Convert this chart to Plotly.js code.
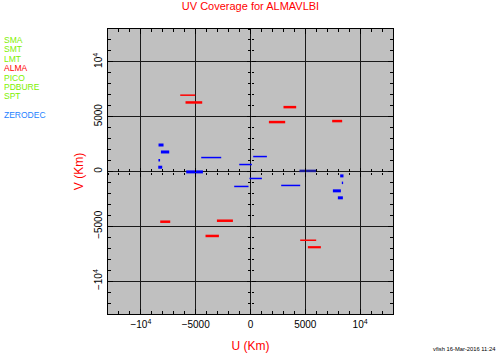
<!DOCTYPE html>
<html>
<head>
<meta charset="utf-8">
<script src="https://cdn.plot.ly/plotly-3.0.1.min.js"></script>
<style>html,body{margin:0;padding:0;background:#fff;}#chart{width:498px;height:353px;}</style>
</head>
<body>
<div id="chart"></div>
<script>
// ---- data (km) ----
const almaU0 = [-6411, -5928, 3010, 1678, 7451, -8235, -3064, -4104, 4533, 5235];
const almaU1 = [-5043, -4405, 4168, 3165, 8363, -7323, -1605, -2882, 5992, 6420];
const almaV  = [ 6963,  6299, 5872, 4509, 4600, -4581, -4490, -5881, -6272, -6908];

const zeroU0 = [-8390, -8172, -8400, -8418, -5864, -4496, -1030,  246, 4469,  2800,  -91, -1487,  8181,  8330,  7515,  7971];
const zeroU1 = [-7934, -7415, -8250, -8053, -4341, -2672,   128, 1496, 5992,  4533, 1040,  -182,  8482,  8450,  8245,  8427];
const zeroV  = [ 2418,  1782,  1027,   391,   -36,  1273,   636, 1364,   55, -1273, -636, -1364,  -400, -1036, -1764, -2400];

const tickVals = [-10000, -5000, 0, 5000, 10000];
const tickText = ['\u221210<sup>4</sup>', '\u22125000', '0', '5000', '10<sup>4</sup>'];

const legendNames  = ['SMA', 'SMT', 'LMT', 'ALMA', 'PICO', 'PDBURE', 'SPT', 'ZERODEC'];
const legendColors = ['#80f000', '#80f000', '#80f000', '#ff0000', '#80f000', '#80f000', '#80f000', '#1e82ff'];
const legendSlots  = [0, 1, 2, 3, 4, 5, 6, 8];

const titleText = 'UV Coverage for ALMAVLBI';
const xTitle = 'U (Km)';
const yTitle = 'V (Km)';
const footText = 'vfish 16-Mar-2016 11:24';

// ---- styles ----
const almaW = [1.5, 2.5, 2.5, 2.5, 2.5, 2.5, 2.5, 2.5, 1.5, 2.2];
const zeroW = [3, 3, 2.5, 3, 3, 1.5, 1.5, 1.5, 2.5, 1.5, 1.5, 1.5, 3, 2.5, 3, 3];
const zeroC = zeroU0.map((_, i) => i === 8 ? '#1c1ca0' : '#0000ff');
const FONT = 'Liberation Sans, Arial, Helvetica, sans-serif';

const traces = [];
almaU0.forEach((u0, i) => {
  traces.push({type: 'scatter', mode: 'lines', x: [u0, almaU1[i]], y: [almaV[i], almaV[i]],
    line: {color: '#ff0000', width: almaW[i]}, showlegend: false, hoverinfo: 'skip'});
});
zeroU0.forEach((u0, i) => {
  traces.push({type: 'scatter', mode: 'lines', x: [u0, zeroU1[i]], y: [zeroV[i], zeroV[i]],
    line: {color: zeroC[i], width: zeroW[i]}, showlegend: false, hoverinfo: 'skip'});
});
// carriers for the tick axes through the origin
traces.push({type: 'scatter', x: [], y: [], xaxis: 'x2', yaxis: 'y2', showlegend: false});
traces.push({type: 'scatter', x: [], y: [], xaxis: 'x3', yaxis: 'y3', showlegend: false});

const R = [-13000, 13000];
function mainAxis(extra) {
  return Object.assign({
    range: R, autorange: false, fixedrange: true,
    showgrid: true, gridcolor: '#1a1a1a', gridwidth: 1,
    zeroline: true, zerolinecolor: '#1a1a1a', zerolinewidth: 1,
    showline: true, linecolor: '#000', linewidth: 1, mirror: 'allticks',
    ticks: 'inside', ticklen: 5, tickwidth: 1, tickcolor: '#000',
    tickmode: 'array', tickvals: tickVals, ticktext: tickText,
    minor: {tickmode: 'linear', tick0: 0, dtick: 1000, ticks: 'inside', ticklen: 3, tickcolor: '#000', showgrid: false},
    tickfont: {family: FONT, size: 10, color: '#000'}
  }, extra);
}
function crossAxis(side, extra) {
  return Object.assign({
    range: R, autorange: false, fixedrange: true,
    showgrid: false, zeroline: false, showline: false, showticklabels: false,
    ticks: side, ticklen: 4, tickwidth: 1, tickcolor: '#000',
    tickmode: 'array', tickvals: tickVals,
    minor: {tickmode: 'linear', tick0: 0, dtick: 1000, ticks: side, ticklen: 2.5, tickcolor: '#000', showgrid: false},
    anchor: 'free', position: 0.5
  }, extra);
}

const annotations = legendNames.map((n, i) => ({
  text: n, xref: 'paper', yref: 'paper', x: (2 - 108) / 285, xanchor: 'left',
  y: (314 - (40 + legendSlots[i] * 9.4)) / 285, yanchor: 'middle',
  showarrow: false, font: {family: FONT, size: 8.5, color: legendColors[i]}
}));
annotations.push({text: footText, xref: 'paper', yref: 'paper', x: (498 - 108) / 285, xanchor: 'right',
  y: (314 - 349) / 285, yanchor: 'middle', showarrow: false, font: {family: FONT, size: 5.8, color: '#000'}});

const layout = {
  width: 498, height: 353,
  margin: {l: 108, r: 105, t: 29, b: 39, pad: 0},
  paper_bgcolor: '#ffffff', plot_bgcolor: '#c0c0c0',
  showlegend: false,
  title: {text: titleText, font: {family: FONT, size: 11, color: '#ff0000'},
    x: 0.5, xref: 'paper', xanchor: 'center', y: 1 - 6.5 / 353, yref: 'container', yanchor: 'middle'},
  xaxis: mainAxis({title: {text: xTitle, font: {family: FONT, size: 12, color: '#ff0000'}, standoff: 14}, ticklabelstandoff: 1}),
  yaxis: mainAxis({tickangle: -90, title: {text: yTitle, font: {family: FONT, size: 12, color: '#ff0000'}, standoff: 5}, ticklabelstandoff: 1}),
  xaxis2: crossAxis('outside', {overlaying: 'x'}),
  yaxis2: crossAxis('outside', {overlaying: 'y'}),
  xaxis3: crossAxis('inside', {overlaying: 'x'}),
  yaxis3: crossAxis('inside', {overlaying: 'y'}),
  annotations: annotations
};

Plotly.newPlot('chart', traces, layout, {staticPlot: true, displayModeBar: false});
</script>
</body>
</html>
